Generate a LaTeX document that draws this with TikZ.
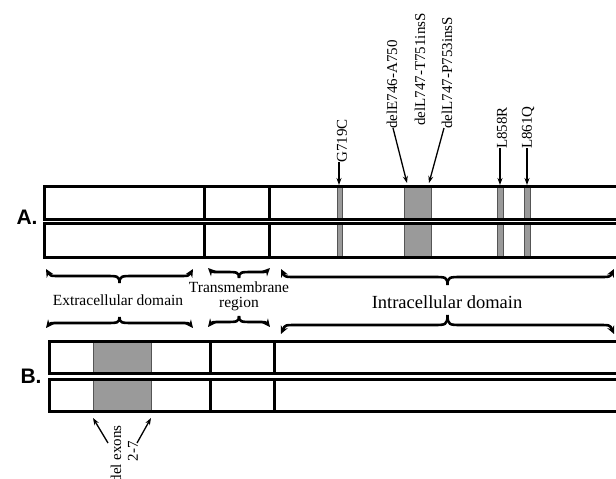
\documentclass[tikz,border=0pt]{standalone}
\usepackage{fontspec}
\setmainfont{Liberation Serif}
\newfontfamily\labfont{Liberation Sans}
\usetikzlibrary{arrows.meta}
\definecolor{mutgrey}{HTML}{9A9A9A}
\definecolor{mutedge}{HTML}{555555}
\tikzset{
  boxline/.style={line width=3pt, draw=black},
  divline/.style={line width=3pt, draw=black},
  mutbar/.style={fill=mutgrey, draw=mutedge, line width=0.9pt},
  bracehalf/.style={line width=2.6pt, {Stealth[length=8pt,width=7.5pt]}-},
  ptr/.style={line width=1.3pt, -{Stealth[length=7pt,width=5pt]}},
  vlabel/.style={rotate=90, inner sep=0pt, font=\fontsize{15}{16}\selectfont},
  domlabel/.style={inner sep=0pt, font=\fontsize{15.5}{16}\selectfont, align=center},
  rowlabel/.style={inner sep=0pt, font=\labfont\bfseries\fontsize{21}{22}\selectfont}
}
\newcommand{\curlybrace}[5]{% x1, x2, yend, yline, ycusp
  \pgfmathsetmacro\bxm{(#1+#2)/2}
  \draw[bracehalf] (#1,#3) .. controls (#1+4,#4) .. (#1+16,#4) -- (\bxm-14,#4) .. controls (\bxm-2,#4) and (\bxm,#4) .. (\bxm,#5);
  \draw[bracehalf] (#2,#3) .. controls (#2-4,#4) .. (#2-16,#4) -- (\bxm+14,#4) .. controls (\bxm+2,#4) and (\bxm,#4) .. (\bxm,#5);
}
\begin{document}
\begin{tikzpicture}[x=1pt,y=-1pt]
\useasboundingbox (0,0) rectangle (616,479);
% ---------- Row A ----------
\foreach \yt/\yb in {186/219, 223/257}{
  \draw[mutbar] (337,\yt) rectangle (342,\yb);
  \draw[mutbar] (404,\yt) rectangle (431,\yb);
  \draw[mutbar] (497,\yt) rectangle (503,\yb);
  \draw[mutbar] (524,\yt) rectangle (530,\yb);
  \draw[boxline] (44,\yt) rectangle (640,\yb);
  \draw[divline] (204,\yt) -- (204,\yb);
  \draw[divline] (269,\yt) -- (269,\yb);
}
\node[rowlabel] (labA) at (27,217) {A.};
% mutation labels
\node[vlabel, anchor=west] (g719) at (342,163) {G719C};
\node[vlabel, anchor=west] (dele) at (392,129) {delE746-A750};
\node[vlabel, anchor=west] (delt) at (420,126) {delL747-T751insS};
\node[vlabel, anchor=west] (delp) at (447,129) {delL747-P753insS};
\node[vlabel, anchor=west] (l858) at (502,149) {L858R};
\node[vlabel, anchor=west] (l861) at (528,149) {L861Q};
\coordinate (gtop) at (339,185);
\coordinate (bigl) at (407,183);
\coordinate (bigr) at (429,183);
\coordinate (l858top) at (500,185);
\coordinate (l861top) at (527,185);
\coordinate (g719t) at (339,162);
\coordinate (delet) at (393,128);
\coordinate (delpt) at (444,128);
\coordinate (l858t) at (500,148);
\coordinate (l861t) at (527,148);
\draw[ptr] (g719t) -- (gtop);
\draw[ptr] (delet) -- (bigl);
\draw[ptr] (delpt) -- (bigr);
\draw[ptr] (l858t) -- (l858top);
\draw[ptr] (l861t) -- (l861top);
% ---------- Braces and domain labels ----------
\curlybrace{46}{193}{269}{276}{283}
\curlybrace{46}{193}{328}{323}{317}
\curlybrace{208}{270}{268}{272}{278}
\curlybrace{208}{270}{327}{322}{316}
\curlybrace{281}{614}{269}{277}{285}
\curlybrace{281}{614}{334}{325}{315}
\node[domlabel] (extra) at (118,300) {Extracellular domain};
\node[domlabel] (trans) at (239,296) {Transmembrane\\[-1pt]region};
\node[domlabel, font=\fontsize{18.5}{20}\selectfont] (intra) at (447,302) {Intracellular domain};
% ---------- Row B ----------
\foreach \yt/\yb in {341/373, 379/411}{
  \draw[mutbar] (93,\yt) rectangle (151,\yb);
  \draw[boxline] (49,\yt) rectangle (640,\yb);
  \draw[divline] (210,\yt) -- (210,\yb);
  \draw[divline] (274,\yt) -- (274,\yb);
}
\node[rowlabel] (labB) at (31,376) {B.};
\node[vlabel, anchor=east] (delex) at (116,425) {del exons};
\node[vlabel] (two7) at (133,451) {2-7};
\coordinate (dxl) at (93,418);
\coordinate (dxr) at (151,418);
\coordinate (dxlt) at (108,443);
\coordinate (dxrt) at (137,443);
\draw[ptr] (dxlt) -- (dxl);
\draw[ptr] (dxrt) -- (dxr);
\end{tikzpicture}
\end{document}
